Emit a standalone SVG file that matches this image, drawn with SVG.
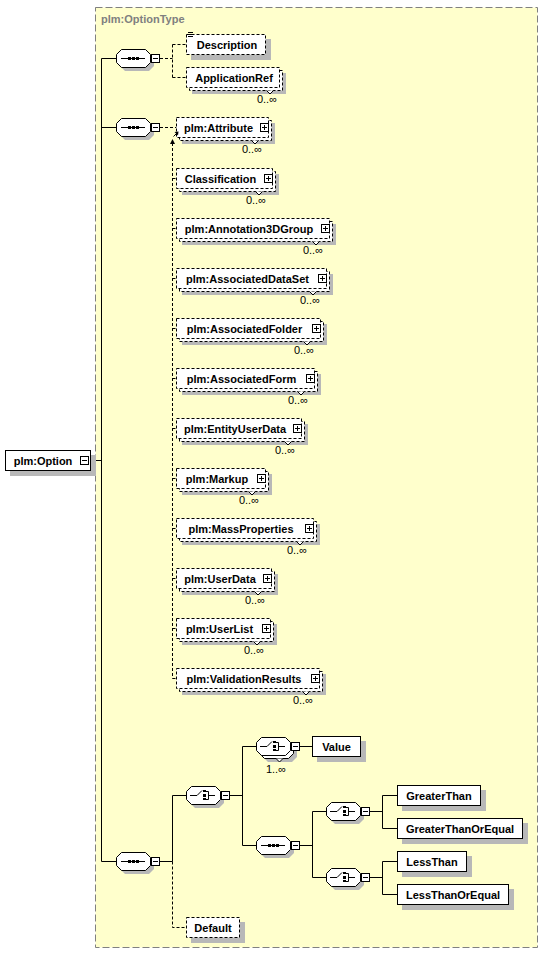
<svg xmlns="http://www.w3.org/2000/svg" xmlns:xlink="http://www.w3.org/1999/xlink" width="543" height="955" viewBox="0 0 543 955">
<style>
.bg{fill:#fff}
.panel{fill:#FFFFCC;stroke:#808080;stroke-dasharray:7,3}
.box{fill:#fff;stroke:#000}
.opt{fill:#fff;stroke:#000;stroke-dasharray:3,2}
.sh{fill:#b8b8b8}
.oct{fill:#fff;stroke:#000}
.ln{fill:none;stroke:#000}
.dl{fill:none;stroke:#000;stroke-dasharray:3,2}
.btn{fill:#fff;stroke:#000}
.t{font-family:"Liberation Sans",Arial,sans-serif;font-weight:bold;font-size:11px;fill:#000}
.tm{text-anchor:middle}
.c{font-family:"Liberation Sans",Arial,sans-serif;font-size:11px;fill:#000;text-anchor:end}
.title{font-family:"Liberation Sans",Arial,sans-serif;font-weight:bold;font-size:11px;fill:#808080}
</style>
<defs>
<path id="octp" d="M5,0H29L34,5V13L29,18H5L0,13V5Z"/>
<g id="seqI"><path d="M5,9.5H29" stroke="#000" fill="none"/><rect x="12" y="8" width="3" height="3"/><rect x="16" y="8" width="3" height="3"/><rect x="20" y="8" width="3" height="3"/></g>
<g id="chI"><path d="M4,9.5H11L16,4.5M20,5.5H22.5V13.5H20M22.5,9.5H29" stroke="#000" fill="none"/><rect x="17" y="4" width="3" height="2"/><rect x="17" y="8" width="3" height="3"/><rect x="17" y="12" width="3" height="2"/></g>
</defs>
<rect class="bg" x="0" y="0" width="543" height="955"/>
<rect class="panel" x="95.5" y="7.5" width="442" height="940"/>
<text class="title" x="101" y="22.5">plm:OptionType</text>

<g id="connectors">
<path class="ln" d="M89,460.5H101.5M101.5,58.5V861.5M101.5,58.5H116.5M101.5,127.5H116.5M101.5,861.5H116.5M160,861.5H172.5V795.5H186.5M230,795.5H242.5M242.5,746.5V845.5M242.5,746.5H256.5M242.5,845.5H256.5M300,746.5H312.5M300,845.5H312.5M312.5,811.5V877.5M312.5,811.5H326.5M312.5,877.5H326.5M370,811.5H382.5M382.5,795.5V828.5M382.5,795.5H397.5M382.5,828.5H397.5M370,877.5H382.5M382.5,861.5V894.5M382.5,861.5H397.5M382.5,894.5H397.5"/>
<path class="dl" d="M160,58.5H172.5M172.5,44.5V77.5M172.5,44.5H186.5M172.5,77.5H186.5M160,127.5H176.5M172.5,143V678.5M172.5,178.5H176.5M172.5,228.5H176.5M172.5,278.5H176.5M172.5,328.5H176.5M172.5,378.5H176.5M172.5,428.5H176.5M172.5,478.5H176.5M172.5,528.5H176.5M172.5,578.5H176.5M172.5,628.5H176.5M172.5,678.5H176.5M172.5,861.5V927.5H186.5"/>
<polygon points="172.5,139 170,144 175,144" fill="#000"/>
</g>

<g id="option">
<rect class="sh" x="10" y="455" width="86" height="21"/>
<rect class="box" x="5.5" y="450.5" width="85" height="20"/>
<text class="t tm" x="43" y="464.5">plm:Option</text>
<rect class="btn" x="80.5" y="456.5" width="8" height="8"/><path class="ln" d="M82,460.5H87"/>
</g>

<g id="seq1">
<use href="#octp" class="sh" x="120" y="53"/>
<use href="#octp" class="oct" x="116.5" y="49.5"/>
<use href="#seqI" x="116" y="49"/>
<rect class="btn" x="151.5" y="54.5" width="8" height="8"/><path class="ln" d="M153,58.5H158"/>
</g>
<g id="seq2">
<use href="#octp" class="sh" x="120" y="122"/>
<use href="#octp" class="oct" x="116.5" y="118.5"/>
<use href="#seqI" x="116" y="118"/>
<rect class="btn" x="151.5" y="123.5" width="8" height="8"/><path class="ln" d="M153,127.5H158"/>
</g>
<g id="seq3">
<use href="#octp" class="sh" x="120" y="856"/>
<use href="#octp" class="oct" x="116.5" y="852.5"/>
<use href="#seqI" x="116" y="852"/>
<rect class="btn" x="151.5" y="857.5" width="8" height="8"/><path class="ln" d="M153,861.5H158"/>
</g>

<g id="description">
<rect class="sh" x="191" y="39" width="80" height="21"/>
<rect class="opt" x="186.5" y="34.5" width="79" height="20"/>
<path class="ln" d="M188,32.5H193M188,34.5H193M188,36.5H193"/>
<text class="t tm" x="227" y="48.5">Description</text>
</g>
<g id="applicationref">
<rect class="sh" x="192" y="73" width="94" height="21"/>
<rect class="opt" x="189.5" y="70.5" width="93" height="20"/>
<rect class="opt" x="186.5" y="67.5" width="93" height="20"/>
<path class="box" d="M266.5,90.5L270,94L273.5,90.5"/>
<text class="t tm" x="234" y="81.5">ApplicationRef</text>
<text class="c" x="277" y="103">0..∞</text>
</g>

<g id="attribute">
<rect class="sh" x="182" y="123" width="93" height="21"/>
<rect class="opt" x="179.5" y="120.5" width="92" height="20"/>
<rect class="opt" x="176.5" y="117.5" width="92" height="20"/>
<path class="box" d="M251.5,140.5L255,144L258.5,140.5"/>
<text class="t tm" x="218.5" y="131.5">plm:Attribute</text>
<rect class="btn" x="260.5" y="123.5" width="8" height="8"/><path class="ln" d="M262,127.5H267M264.5,125V130"/>
<text class="c" x="262" y="153">0..∞</text>
<path class="ln" d="M173.5,136.5L177,133"/><polygon points="178.5,131.5 174.5,132 178,135.5" fill="#000"/>
</g>
<g id="classification">
<rect class="sh" x="182" y="174" width="97" height="21"/>
<rect class="opt" x="179.5" y="171.5" width="96" height="20"/>
<rect class="opt" x="176.5" y="168.5" width="96" height="20"/>
<path class="box" d="M255.5,191.5L259,195L262.5,191.5"/>
<text class="t tm" x="220.5" y="182.5">Classification</text>
<rect class="btn" x="264.5" y="174.5" width="8" height="8"/><path class="ln" d="M266,178.5H271M268.5,176V181"/>
<text class="c" x="266" y="204">0..∞</text>
</g>
<g id="annotation3dgroup">
<rect class="sh" x="182" y="224" width="154" height="21"/>
<rect class="opt" x="179.5" y="221.5" width="153" height="20"/>
<rect class="opt" x="176.5" y="218.5" width="153" height="20"/>
<path class="box" d="M312.5,241.5L316,245L319.5,241.5"/>
<text class="t tm" x="249" y="232.5">plm:Annotation3DGroup</text>
<rect class="btn" x="321.5" y="224.5" width="8" height="8"/><path class="ln" d="M323,228.5H328M325.5,226V231"/>
<text class="c" x="323" y="254">0..∞</text>
</g>
<g id="associateddataset">
<rect class="sh" x="182" y="274" width="151" height="21"/>
<rect class="opt" x="179.5" y="271.5" width="150" height="20"/>
<rect class="opt" x="176.5" y="268.5" width="150" height="20"/>
<path class="box" d="M309.5,291.5L313,295L316.5,291.5"/>
<text class="t tm" x="247.5" y="282.5">plm:AssociatedDataSet</text>
<rect class="btn" x="318.5" y="274.5" width="8" height="8"/><path class="ln" d="M320,278.5H325M322.5,276V281"/>
<text class="c" x="320" y="304">0..∞</text>
</g>
<g id="associatedfolder">
<rect class="sh" x="182" y="324" width="145" height="21"/>
<rect class="opt" x="179.5" y="321.5" width="144" height="20"/>
<rect class="opt" x="176.5" y="318.5" width="144" height="20"/>
<path class="box" d="M303.5,341.5L307,345L310.5,341.5"/>
<text class="t tm" x="244.5" y="332.5">plm:AssociatedFolder</text>
<rect class="btn" x="312.5" y="324.5" width="8" height="8"/><path class="ln" d="M314,328.5H319M316.5,326V331"/>
<text class="c" x="314" y="354">0..∞</text>
</g>
<g id="associatedform">
<rect class="sh" x="182" y="374" width="139" height="21"/>
<rect class="opt" x="179.5" y="371.5" width="138" height="20"/>
<rect class="opt" x="176.5" y="368.5" width="138" height="20"/>
<path class="box" d="M297.5,391.5L301,395L304.5,391.5"/>
<text class="t tm" x="241.5" y="382.5">plm:AssociatedForm</text>
<rect class="btn" x="306.5" y="374.5" width="8" height="8"/><path class="ln" d="M308,378.5H313M310.5,376V381"/>
<text class="c" x="308" y="404">0..∞</text>
</g>
<g id="entityuserdata">
<rect class="sh" x="182" y="424" width="126" height="21"/>
<rect class="opt" x="179.5" y="421.5" width="125" height="20"/>
<rect class="opt" x="176.5" y="418.5" width="125" height="20"/>
<path class="box" d="M284.5,441.5L288,445L291.5,441.5"/>
<text class="t tm" x="235" y="432.5">plm:EntityUserData</text>
<rect class="btn" x="293.5" y="424.5" width="8" height="8"/><path class="ln" d="M295,428.5H300M297.5,426V431"/>
<text class="c" x="295" y="454">0..∞</text>
</g>
<g id="markup">
<rect class="sh" x="182" y="474" width="90" height="21"/>
<rect class="opt" x="179.5" y="471.5" width="89" height="20"/>
<rect class="opt" x="176.5" y="468.5" width="89" height="20"/>
<path class="box" d="M248.5,491.5L252,495L255.5,491.5"/>
<text class="t tm" x="217" y="482.5">plm:Markup</text>
<rect class="btn" x="257.5" y="474.5" width="8" height="8"/><path class="ln" d="M259,478.5H264M261.5,476V481"/>
<text class="c" x="259" y="504">0..∞</text>
</g>
<g id="massproperties">
<rect class="sh" x="182" y="524" width="138" height="21"/>
<rect class="opt" x="179.5" y="521.5" width="137" height="20"/>
<rect class="opt" x="176.5" y="518.5" width="137" height="20"/>
<path class="box" d="M296.5,541.5L300,545L303.5,541.5"/>
<text class="t tm" x="241" y="532.5">plm:MassProperties</text>
<rect class="btn" x="305.5" y="524.5" width="8" height="8"/><path class="ln" d="M307,528.5H312M309.5,526V531"/>
<text class="c" x="307" y="554">0..∞</text>
</g>
<g id="userdata">
<rect class="sh" x="182" y="574" width="96" height="21"/>
<rect class="opt" x="179.5" y="571.5" width="95" height="20"/>
<rect class="opt" x="176.5" y="568.5" width="95" height="20"/>
<path class="box" d="M254.5,591.5L258,595L261.5,591.5"/>
<text class="t tm" x="220" y="582.5">plm:UserData</text>
<rect class="btn" x="263.5" y="574.5" width="8" height="8"/><path class="ln" d="M265,578.5H270M267.5,576V581"/>
<text class="c" x="265" y="604">0..∞</text>
</g>
<g id="userlist">
<rect class="sh" x="182" y="624" width="95" height="21"/>
<rect class="opt" x="179.5" y="621.5" width="94" height="20"/>
<rect class="opt" x="176.5" y="618.5" width="94" height="20"/>
<path class="box" d="M253.5,641.5L257,645L260.5,641.5"/>
<text class="t tm" x="219.5" y="632.5">plm:UserList</text>
<rect class="btn" x="262.5" y="624.5" width="8" height="8"/><path class="ln" d="M264,628.5H269M266.5,626V631"/>
<text class="c" x="264" y="654">0..∞</text>
</g>
<g id="validationresults">
<rect class="sh" x="182" y="674" width="144" height="21"/>
<rect class="opt" x="179.5" y="671.5" width="143" height="20"/>
<rect class="opt" x="176.5" y="668.5" width="143" height="20"/>
<path class="box" d="M302.5,691.5L306,695L309.5,691.5"/>
<text class="t tm" x="244" y="682.5">plm:ValidationResults</text>
<rect class="btn" x="311.5" y="674.5" width="8" height="8"/><path class="ln" d="M313,678.5H318M315.5,676V681"/>
<text class="c" x="313" y="704">0..∞</text>
</g>

<g id="choice1">
<use href="#octp" class="sh" x="190" y="790"/>
<use href="#octp" class="oct" x="186.5" y="786.5"/>
<use href="#chI" x="186" y="786"/>
<rect class="btn" x="221.5" y="791.5" width="8" height="8"/><path class="ln" d="M223,795.5H228"/>
</g>
<g id="choice2">
<use href="#octp" class="sh" x="263" y="744"/>
<use href="#octp" class="oct" x="259.5" y="740.5"/>
<use href="#octp" class="oct" x="256.5" y="737.5"/>
<use href="#chI" x="256" y="737"/>
<path class="box" d="M276,758.5L279.5,762L283,758.5"/>
<rect class="btn" x="291.5" y="742.5" width="8" height="8"/><path class="ln" d="M293,746.5H298"/>
<text class="c" x="286" y="773">1..∞</text>
</g>
<g id="seq4">
<use href="#octp" class="sh" x="260" y="840"/>
<use href="#octp" class="oct" x="256.5" y="836.5"/>
<use href="#seqI" x="256" y="836"/>
<rect class="btn" x="291.5" y="841.5" width="8" height="8"/><path class="ln" d="M293,845.5H298"/>
</g>
<g id="choiceA">
<use href="#octp" class="sh" x="330" y="806"/>
<use href="#octp" class="oct" x="326.5" y="802.5"/>
<use href="#chI" x="326" y="802"/>
<rect class="btn" x="361.5" y="807.5" width="8" height="8"/><path class="ln" d="M363,811.5H368"/>
</g>
<g id="choiceB">
<use href="#octp" class="sh" x="330" y="872"/>
<use href="#octp" class="oct" x="326.5" y="868.5"/>
<use href="#chI" x="326" y="868"/>
<rect class="btn" x="361.5" y="873.5" width="8" height="8"/><path class="ln" d="M363,877.5H368"/>
</g>

<g id="value">
<rect class="sh" x="317" y="741" width="49" height="21"/>
<rect class="box" x="312.5" y="736.5" width="48" height="20"/>
<text class="t tm" x="336.5" y="750.5">Value</text>
</g>
<g id="greaterthan">
<rect class="sh" x="402" y="790" width="84" height="21"/>
<rect class="box" x="397.5" y="785.5" width="83" height="20"/>
<text class="t tm" x="439" y="799.5">GreaterThan</text>
</g>
<g id="greaterthanorequal">
<rect class="sh" x="402" y="823" width="126" height="21"/>
<rect class="box" x="397.5" y="818.5" width="125" height="20"/>
<text class="t tm" x="460" y="832.5">GreaterThanOrEqual</text>
</g>
<g id="lessthan">
<rect class="sh" x="402" y="856" width="70" height="21"/>
<rect class="box" x="397.5" y="851.5" width="69" height="20"/>
<text class="t tm" x="432" y="865.5">LessThan</text>
</g>
<g id="lessthanorequal">
<rect class="sh" x="402" y="889" width="112" height="21"/>
<rect class="box" x="397.5" y="884.5" width="111" height="20"/>
<text class="t tm" x="453" y="898.5">LessThanOrEqual</text>
</g>
<g id="default">
<rect class="sh" x="191" y="922" width="54" height="21"/>
<rect class="opt" x="186.5" y="917.5" width="53" height="20"/>
<text class="t tm" x="213" y="931.5">Default</text>
</g>
</svg>
